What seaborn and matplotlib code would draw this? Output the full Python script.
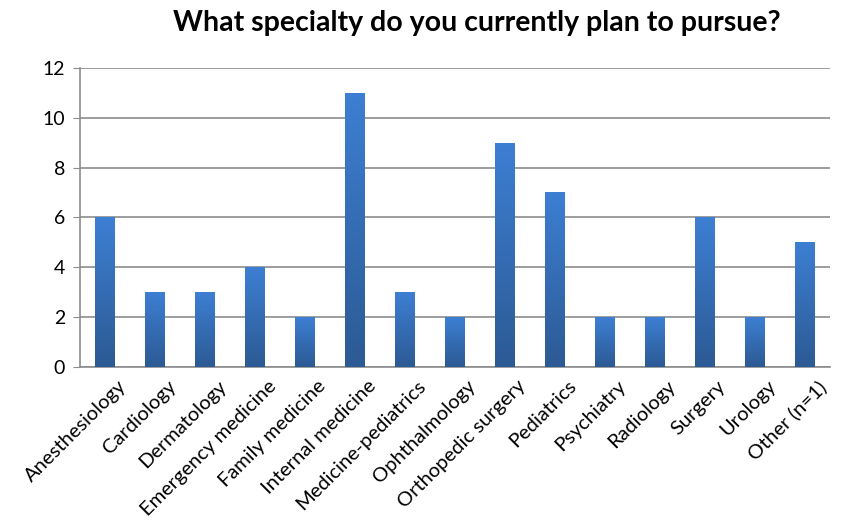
import numpy as np
import pandas as pd
import matplotlib
matplotlib.use('Agg')
import matplotlib.pyplot as plt
from matplotlib.colors import LinearSegmentedColormap
from matplotlib.transforms import ScaledTranslation
import seaborn as sns

specialties = ['Anesthesiology', 'Cardiology', 'Dermatology', 'Emergency medicine',
               'Family medicine', 'Internal medicine', 'Medicine-pediatrics',
               'Ophthalmology', 'Orthopedic surgery', 'Pediatrics', 'Psychiatry',
               'Radiology', 'Surgery', 'Urology', 'Other (n=1)']
counts = [6, 3, 3, 4, 2, 11, 3, 2, 9, 7, 2, 2, 6, 2, 5]
y_ticks = [0, 2, 4, 6, 8, 10, 12]

df = pd.DataFrame({'specialty': specialties, 'count': counts})

sns.set_style('white')
plt.rcParams['font.family'] = ['Lato', 'DejaVu Sans']

fig = plt.figure(figsize=(8.45, 5.22), dpi=100)
ax = fig.add_axes([0.095, 0.297, 0.887, 0.573])

sns.barplot(data=df, x='specialty', y='count', color='#3a78c8', width=0.4,
            saturation=1, ax=ax, zorder=3)

# excel-like vertical gradient on each bar
grad = LinearSegmentedColormap.from_list('bar', ['#2c5a94', '#3d7fd3'])
for p in ax.patches:
    x0, y0 = p.get_x(), p.get_y()
    w, h = p.get_width(), p.get_height()
    im = ax.imshow(np.linspace(0, 1, 256).reshape(-1, 1), cmap=grad, origin='lower',
                   extent=[x0, x0 + w, y0, y0 + h], aspect='auto', zorder=4)
    im.set_clip_path(p)
    p.set_edgecolor('none')

ax.set_xlim(-0.5, len(specialties) - 0.5)
ax.set_ylim(0, 12)
ax.set_yticks(y_ticks)
ax.yaxis.grid(True, color='#8c8c8c', linewidth=1.2, zorder=0)
ax.set_axisbelow(True)

for s in ['top', 'right']:
    ax.spines[s].set_visible(False)
for s in ['left', 'bottom']:
    ax.spines[s].set_color('#8c8c8c')
    ax.spines[s].set_linewidth(1.2)

ax.tick_params(axis='y', which='both', left=True, length=5, color='#8c8c8c',
               labelsize=14, labelcolor='black', pad=6)
ax.tick_params(axis='x', bottom=False, labelsize=14.5, labelcolor='black', pad=4)
shift = ScaledTranslation(0.12, 0, fig.dpi_scale_trans)
for lbl in ax.get_xticklabels():
    lbl.set_rotation(45)
    lbl.set_ha('right')
    lbl.set_rotation_mode('anchor')
    lbl.set_transform(lbl.get_transform() + shift)

ax.set_xlabel('')
ax.set_ylabel('')
fig.suptitle('What specialty do you currently plan to pursue?', x=0.564, y=0.98,
             fontsize=20.5, fontweight='bold', color='black')

fig.savefig('out.png', dpi=100)
